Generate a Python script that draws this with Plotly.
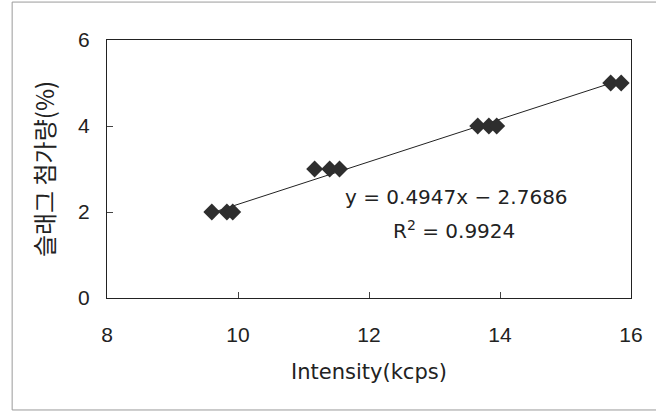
import plotly.graph_objects as go

# data
intensity = [9.60, 9.83, 9.92, 11.17, 11.40, 11.55, 13.66, 13.83, 13.95, 15.69, 15.85]
slag_pct = [2, 2, 2, 3, 3, 3, 4, 4, 4, 5, 5]
slope = 0.4947
intercept = -2.7686
r2 = 0.9924
x_ticks = [8, 10, 12, 14, 16]
y_ticks = [0, 2, 4, 6]

fit_x = [min(intensity), max(intensity)]
fit_y = [slope * v + intercept for v in fit_x]

font_tick = "Liberation Sans, Arial, sans-serif"
font_text = "DejaVu Sans, sans-serif"

fig = go.Figure()
fig.add_trace(go.Scatter(x=fit_x, y=fit_y, mode="lines",
                         line=dict(color="#222222", width=1), showlegend=False,
                         hoverinfo="skip"))
fig.add_trace(go.Scatter(x=intensity, y=slag_pct, mode="markers",
                         marker=dict(symbol="diamond", size=13, color="#2e2e2e"),
                         showlegend=False))

fig.add_annotation(x=13.34, y=2.35, xref="x", yref="y",
                   text=f"y = {slope}x \u2212 {abs(intercept)}", showarrow=False,
                   font=dict(family=font_text, size=20, color="#222222"))
fig.add_annotation(x=13.3, y=1.58, xref="x", yref="y",
                   text=f"R<sup>2</sup> = {r2}", showarrow=False,
                   font=dict(family=font_text, size=20, color="#222222"))

# outer frame
fig.add_shape(type="rect", xref="paper", yref="paper", x0=-0.181, x1=1.12, y0=-0.434, y1=1.147,
              line=dict(color="#9a9a9a", width=1), layer="below")

fig.update_xaxes(range=[8, 16], tickvals=x_ticks, ticks="inside", ticklen=6,
                 tickcolor="#444", linecolor="#222", linewidth=1, mirror=True,
                 showgrid=False, zeroline=False, ticklabelstandoff=18,
                 tickfont=dict(family=font_tick, size=21, color="#222"),
                 title=dict(text="Intensity(kcps)", standoff=19,
                            font=dict(family=font_text, size=21, color="#222")))
fig.update_yaxes(range=[0, 6], tickvals=y_ticks, ticks="inside", ticklen=6,
                 tickcolor="#444", linecolor="#222", linewidth=1, mirror=True,
                 showgrid=False, zeroline=False, ticklabelstandoff=12,
                 tickfont=dict(family=font_tick, size=21, color="#222"),
                 title=dict(text="슬래그 첨가량(%)", standoff=16,
                            font=dict(family="Noto Sans CJK KR", size=24, color="#222")))

fig.update_layout(width=656, height=412, margin=dict(l=107, r=25, t=40, b=114),
                  paper_bgcolor="white", plot_bgcolor="white")

fig.write_html("out.html", config={"displayModeBar": False},
               post_script="document.body.style.margin='0';")
